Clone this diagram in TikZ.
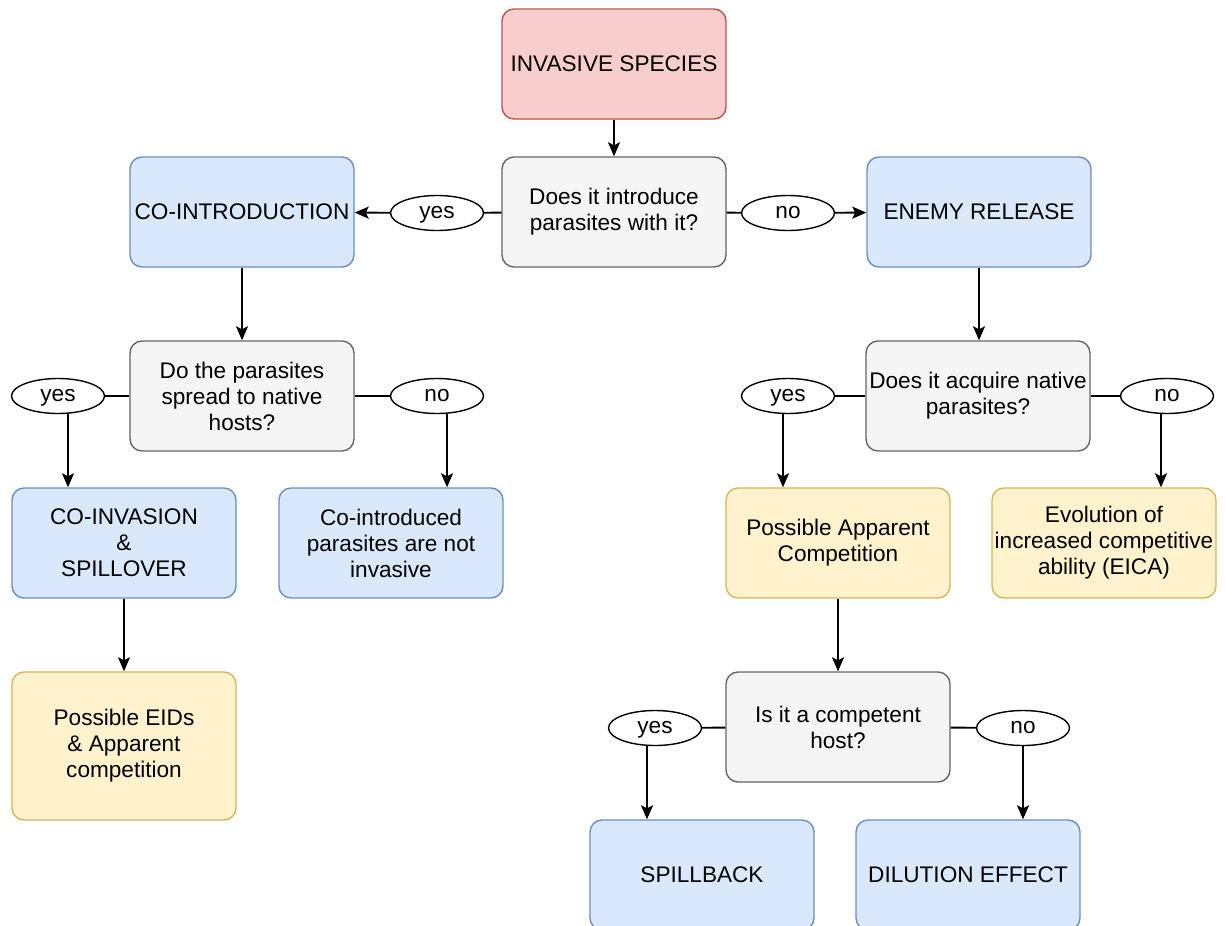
\documentclass[tikz,border=0pt]{standalone}
\usepackage{fontspec}
\setmainfont{Liberation Sans}
\usetikzlibrary{arrows.meta,positioning,shapes,calc}
\definecolor{redfill}{HTML}{F8CECC}\definecolor{redline}{HTML}{B85450}
\definecolor{greyfill}{HTML}{F5F5F5}\definecolor{greyline}{HTML}{666666}
\definecolor{bluefill}{HTML}{DAE8FC}\definecolor{blueline}{HTML}{6C8EBF}
\definecolor{yellowfill}{HTML}{FFF2CC}\definecolor{yellowline}{HTML}{D6B656}
\begin{document}
\begin{tikzpicture}[x=0.5pt,y=-0.5pt,>={Stealth[length=7pt,width=6pt,inset=1.5pt]},line width=0.95pt,
main node/.style={rectangle,rounded corners=6pt,draw,line width=0.7pt,minimum width=112pt,minimum height=55pt,align=center,inner sep=0pt},
start node/.style={main node,fill=redfill,draw=redline},
question node/.style={main node,fill=greyfill,draw=greyline},
outcome node/.style={main node,fill=bluefill,draw=blueline},
effect node/.style={main node,fill=yellowfill,draw=yellowline},
answer node/.style={ellipse,draw,fill=white,line width=0.7pt,minimum width=46.5pt,minimum height=17.5pt,inner sep=0pt,text height=7.5pt,text depth=1.6pt}]
\useasboundingbox (0,0) rectangle (1226,926);
\begin{scope}[every node/.style={font=\fontsize{11.3}{13}\selectfont}]
\node[start node] (inv) at (614,64) {INVASIVE SPECIES};
\node[question node] (q1) at (614,212) {Does it introduce\\parasites with it?};
\node[outcome node] (coint) at (242,212) {CO-INTRODUCTION};
\node[outcome node] (enemy) at (979,212) {ENEMY RELEASE};
\node[question node] (q2) at (242,396) {Do the parasites\\spread to native\\hosts?};
\node[question node] (q3) at (978,396) {Does it acquire native\\parasites?};
\node[outcome node] (coinv) at (124,543) {CO-INVASION\\\&\\SPILLOVER};
\node[outcome node] (notinv) at (391,543) {Co-introduced\\parasites are not\\invasive};
\node[effect node] (appcomp) at (838,543) {Possible Apparent\\Competition};
\node[effect node] (eica) at (1104,543) {Evolution of\\increased competitive\\ability (EICA)};
\node[effect node,minimum height=74pt] (eids) at (124,746) {Possible EIDs\\\& Apparent\\competition};
\node[question node] (q4) at (838,727) {Is it a competent\\host?};
\node[outcome node] (spill) at (702,875) {SPILLBACK};
\node[outcome node] (dilut) at (968,875) {DILUTION EFFECT};

\node[answer node] (yes1) at (437,213) {yes};
\node[answer node] (no1) at (788,213) {no};
\node[answer node] (yes2) at (58,396) {yes};
\node[answer node] (no2) at (437,396) {no};
\node[answer node] (yes3) at (788,396) {yes};
\node[answer node] (no3) at (1167,396) {no};
\node[answer node] (yes4) at (655,728) {yes};
\node[answer node] (no4) at (1023,728) {no};
%\node[answer node] () at (,) {};
\end{scope}
\begin{scope}
\draw[->] (inv) -- (q1);
\draw (q1) -- (yes1);
\draw[->] (yes1) -- (coint);
\draw (q1) -- (no1);
\draw[->] (no1) -- (enemy);
\draw[->] (coint) -- (q2);
\draw[->] (enemy) -- (enemy |- q3.north);
\draw (q2) -- (yes2);
\draw[->] ([xshift=5pt]yes2.south) -- ([xshift=5pt]yes2.south |- coinv.north);
\draw (q2) -- (no2);
\draw[->] ([xshift=5pt]no2.south) -- ([xshift=5pt]no2.south |- notinv.north);
\draw[->] (coinv) -- (eids);
\draw (q3) -- (yes3);
\draw[->] ([xshift=-2.5pt]yes3.south) -- ([xshift=-2.5pt]yes3.south |- appcomp.north);
\draw (q3) -- (no3);
\draw[->] ([xshift=-3pt]no3.south) -- ([xshift=-3pt]no3.south |- eica.north);
\draw[->] (appcomp) -- (q4);
\draw (q4) -- (yes4);
\draw[->] ([xshift=-4pt]yes4.south) -- ([xshift=-4pt]yes4.south |- spill.north);
\draw (q4) -- (no4);
\draw[->] (no4) -- (no4 |- dilut.north);
%\draw[->] () -- ();
\end{scope}
\end{tikzpicture}
\end{document}
